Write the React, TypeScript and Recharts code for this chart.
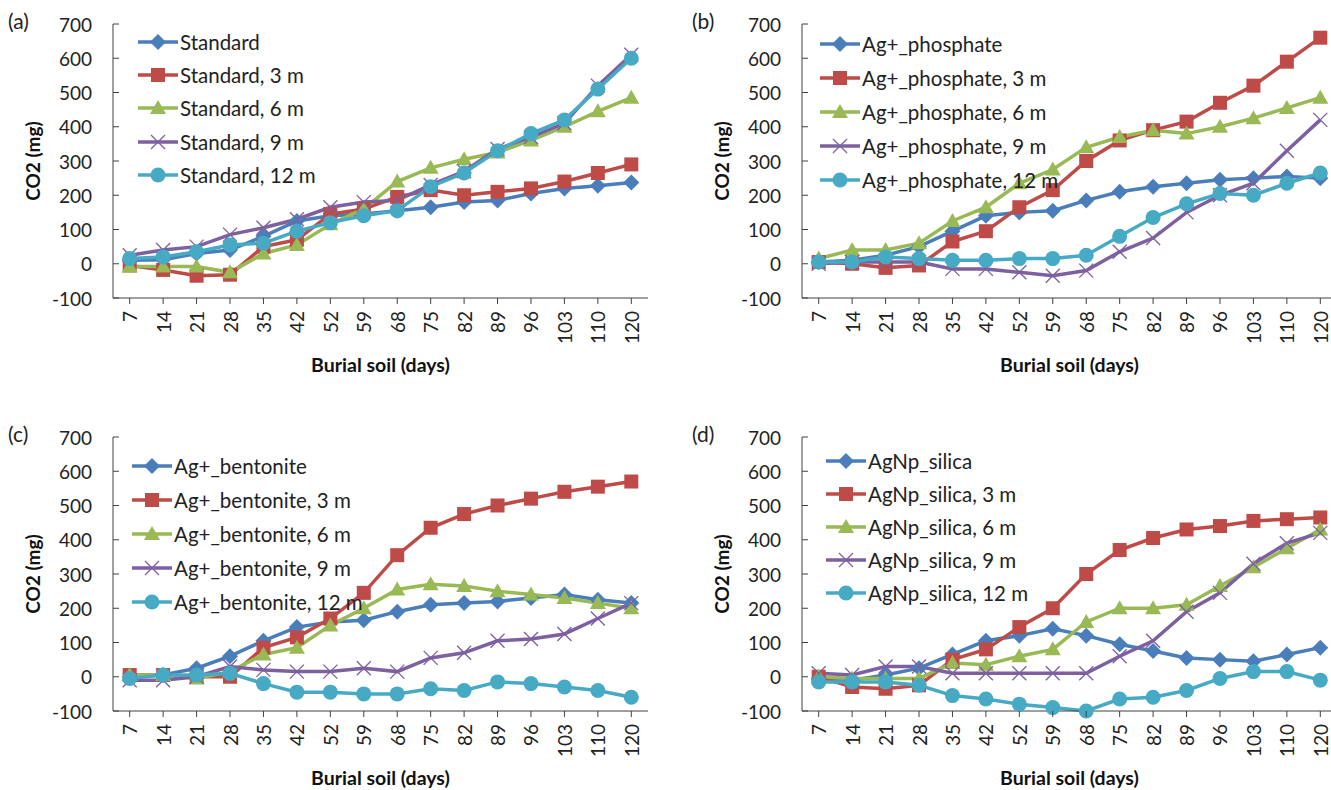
import { LineChart, Line, XAxis, YAxis, Legend, Label } from 'recharts';

const days = ['7', '14', '21', '28', '35', '42', '52', '59', '68', '75', '82', '89', '96', '103', '110', '120'];
const yTicks = [-100, 0, 100, 200, 300, 400, 500, 600, 700];

// (a) Standard
const standard = [10, 12, 30, 40, 80, 125, 140, 145, 155, 165, 180, 185, 205, 220, 228, 237];
const standard3 = [-5, -18, -35, -32, 50, 70, 145, 160, 195, 215, 200, 210, 220, 240, 265, 290];
const standard6 = [-8, -8, -8, -25, 30, 55, 115, 160, 240, 280, 305, 325, 360, 400, 445, 485];
const standard9 = [25, 40, 50, 85, 105, 130, 165, 180, 185, 230, 270, 335, 370, 410, 520, 610];
const standard12 = [15, 20, 35, 55, 60, 95, 120, 140, 155, 225, 265, 330, 380, 420, 510, 600];

// (b) Ag+_phosphate
const phosphate = [5, 10, 25, 50, 95, 140, 150, 155, 185, 210, 225, 235, 245, 250, 255, 250];
const phosphate3 = [5, 0, -12, -5, 65, 95, 165, 215, 300, 360, 390, 415, 470, 520, 590, 660];
const phosphate6 = [15, 40, 40, 60, 125, 165, 235, 275, 340, 370, 390, 380, 400, 425, 455, 485];
const phosphate9 = [0, 5, 5, 5, -15, -15, -25, -35, -20, 35, 75, 150, 200, 235, 330, 420];
const phosphate12 = [5, 5, 20, 15, 10, 10, 15, 15, 25, 80, 135, 175, 205, 200, 235, 265];

// (c) Ag+_bentonite
const bentonite = [0, 5, 25, 60, 105, 145, 160, 165, 190, 210, 215, 220, 230, 240, 225, 215];
const bentonite3 = [5, 5, 0, 0, 85, 115, 170, 245, 355, 435, 475, 500, 520, 540, 555, 570];
const bentonite6 = [5, 5, -5, 15, 65, 85, 150, 200, 255, 270, 265, 250, 240, 230, 215, 200];
const bentonite9 = [-10, -10, 0, 30, 20, 15, 15, 25, 15, 55, 70, 105, 110, 125, 170, 215];
const bentonite12 = [-5, 5, 5, 10, -20, -45, -45, -50, -50, -35, -40, -15, -20, -30, -40, -60];

// (d) AgNp_silica
const silica = [-5, -10, 5, 25, 65, 105, 120, 140, 120, 95, 75, 55, 50, 45, 65, 85];
const silica3 = [0, -30, -35, -25, 50, 80, 145, 200, 300, 370, 405, 430, 440, 455, 460, 465];
const silica6 = [0, -5, -5, -5, 40, 35, 60, 80, 160, 200, 200, 210, 265, 320, 375, 430];
const silica9 = [10, 5, 30, 30, 10, 10, 10, 10, 10, 60, 105, 190, 245, 330, 390, 420];
const silica12 = [-15, -15, -15, -25, -55, -65, -80, -90, -100, -65, -60, -40, -5, 15, 15, -10];

const suffixes = ['', ', 3 m', ', 6 m', ', 9 m', ', 12 m'];

const FONT = 'Lato, "Liberation Sans", sans-serif';
const AXIS = '#404040';

const styles = [
  { color: '#4A7EBB', shape: 'diamond' },
  { color: '#BE4B48', shape: 'square' },
  { color: '#98B954', shape: 'triangle' },
  { color: '#7D60A0', shape: 'x' },
  { color: '#46AAC5', shape: 'circle' },
];

const Marker = ({ shape, color, cx, cy }: any) => {
  if (cx == null || cy == null) return null;
  switch (shape) {
    case 'diamond':
      return <polygon points={`${cx},${cy - 8} ${cx + 8},${cy} ${cx},${cy + 8} ${cx - 8},${cy}`} fill={color} />;
    case 'square':
      return <rect x={cx - 7} y={cy - 7} width={14} height={14} fill={color} />;
    case 'triangle':
      return <polygon points={`${cx},${cy - 8} ${cx + 8},${cy + 6} ${cx - 8},${cy + 6}`} fill={color} />;
    case 'x':
      return (
        <g stroke={color} strokeWidth={1.3}>
          <line x1={cx - 7} y1={cy - 7} x2={cx + 7} y2={cy + 7} />
          <line x1={cx - 7} y1={cy + 7} x2={cx + 7} y2={cy - 7} />
        </g>
      );
    default:
      return <circle cx={cx} cy={cy} r={7.5} fill={color} />;
  }
};

const XTick = ({ x, y, payload }: any) => (
  <g>
    <line x1={x} y1={y} x2={x} y2={y + 6} stroke={AXIS} />
    <text x={x} y={y + 13} transform={`rotate(-90, ${x}, ${y + 13})`} textAnchor="end" dominantBaseline="central"
      fontSize={19} fontFamily={FONT} fill="#222">{payload.value}</text>
  </g>
);

const YTick = ({ x, y, payload }: any) => (
  <g>
    <line x1={x} y1={y} x2={x + 6} y2={y} stroke={AXIS} />
    <text x={x - 21} y={y} textAnchor="end" dominantBaseline="central" fontSize={19} fontFamily={FONT} fill="#222">
      {payload.value}
    </text>
  </g>
);

const YTitle = ({ viewBox }: any) => {
  const cy = viewBox.y + viewBox.height / 2;
  return (
    <text x={32} y={cy} transform={`rotate(-90, 32, ${cy})`} textAnchor="middle" dominantBaseline="central"
      fontSize={19} fontWeight="bold" fontFamily={FONT} fill="#111">CO2 (mg)</text>
  );
};

const LegendBox = ({ names, step }: any) => (
  <div style={{ fontFamily: FONT, fontSize: 20.5, color: '#222' }}>
    {names.map((n: string, i: number) => (
      <div key={n} style={{ display: 'flex', alignItems: 'center', height: step, whiteSpace: 'nowrap' }}>
        <svg width={40} height={20} style={{ display: 'block' }}>
          <line x1={0} y1={10} x2={40} y2={10} stroke={styles[i].color} strokeWidth={3.5} />
          <Marker shape={styles[i].shape} color={styles[i].color} cx={20} cy={10} />
        </svg>
        <span style={{ marginLeft: 2 }}>{n}</span>
      </div>
    ))}
  </div>
);

const Panel = ({ tag, tagX, left, top, base, values, legendX, legendY, step }: any) => {
  const rows = days.map((d, i) => {
    const r: any = { day: d };
    values.forEach((v: number[], k: number) => { r['s' + k] = v[i]; });
    return r;
  });
  const names = suffixes.map((s) => base + s);
  return (
    <div style={{ position: 'absolute', left, top }}>
      <div style={{ position: 'absolute', left: tagX, top: 8, fontFamily: FONT, fontSize: 21, color: '#222' }}>{tag}</div>
      <LineChart width={660} height={390} data={rows} margin={{ top: 24, right: 12, bottom: 12, left: 0 }}>
        <XAxis dataKey="day" interval={0} height={80} tickSize={0} tickMargin={0} tickLine={false}
          padding={{ left: 16.7, right: 16.7 }} tick={<XTick />} axisLine={{ stroke: AXIS }}>
          <Label position="insideBottom" offset={6} value="Burial soil (days)" fontSize={19.5} fontWeight="bold"
            fontFamily={FONT} fill="#111" />
        </XAxis>
        <XAxis xAxisId="top" dataKey="day" orientation="top" height={0} tick={false} tickLine={false}
          padding={{ left: 16.7, right: 16.7 }} axisLine={{ stroke: AXIS }} />
        <YAxis width={113} domain={[-100, 700]} ticks={yTicks} interval={0} tickSize={0} tickMargin={0}
          tickLine={false} tick={<YTick />} axisLine={{ stroke: AXIS }} label={<YTitle />} />
        <YAxis yAxisId="right" orientation="right" width={0} domain={[-100, 700]} tick={false} tickLine={false}
          axisLine={{ stroke: AXIS }} />
        {values.map((_: number[], k: number) => (
          <Line key={k} type="linear" dataKey={'s' + k} name={names[k]} stroke={styles[k].color} strokeWidth={3.5}
            isAnimationActive={false}
            dot={(p: any) => <Marker key={p.index} shape={styles[k].shape} color={styles[k].color} cx={p.cx} cy={p.cy} />} />
        ))}
        <Legend layout="vertical" align="center" verticalAlign="middle"
          wrapperStyle={{ left: legendX, top: legendY, width: 'auto' }}
          content={() => <LegendBox names={names} step={step} />} />
      </LineChart>
    </div>
  );
};

export default function App() {
  return (
    <div style={{ position: 'fixed', left: 0, top: 0, width: 1331, height: 790, overflow: 'hidden', background: '#fff' }}>
      <Panel tag="(a)" tagX={8} left={0} top={0} base="Standard"
        values={[standard, standard3, standard6, standard9, standard12]} legendX={138} legendY={25} step={33.4} />
      <Panel tag="(b)" tagX={3} left={689} top={0} base="Ag+_phosphate"
        values={[phosphate, phosphate3, phosphate6, phosphate9, phosphate12]} legendX={131} legendY={27} step={34} />
      <Panel tag="(c)" tagX={8} left={0} top={413} base="Ag+_bentonite"
        values={[bentonite, bentonite3, bentonite6, bentonite9, bentonite12]} legendX={132} legendY={36} step={34} />
      <Panel tag="(d)" tagX={3} left={689} top={413} base="AgNp_silica"
        values={[silica, silica3, silica6, silica9, silica12]} legendX={137} legendY={31} step={33.2} />
    </div>
  );
}
